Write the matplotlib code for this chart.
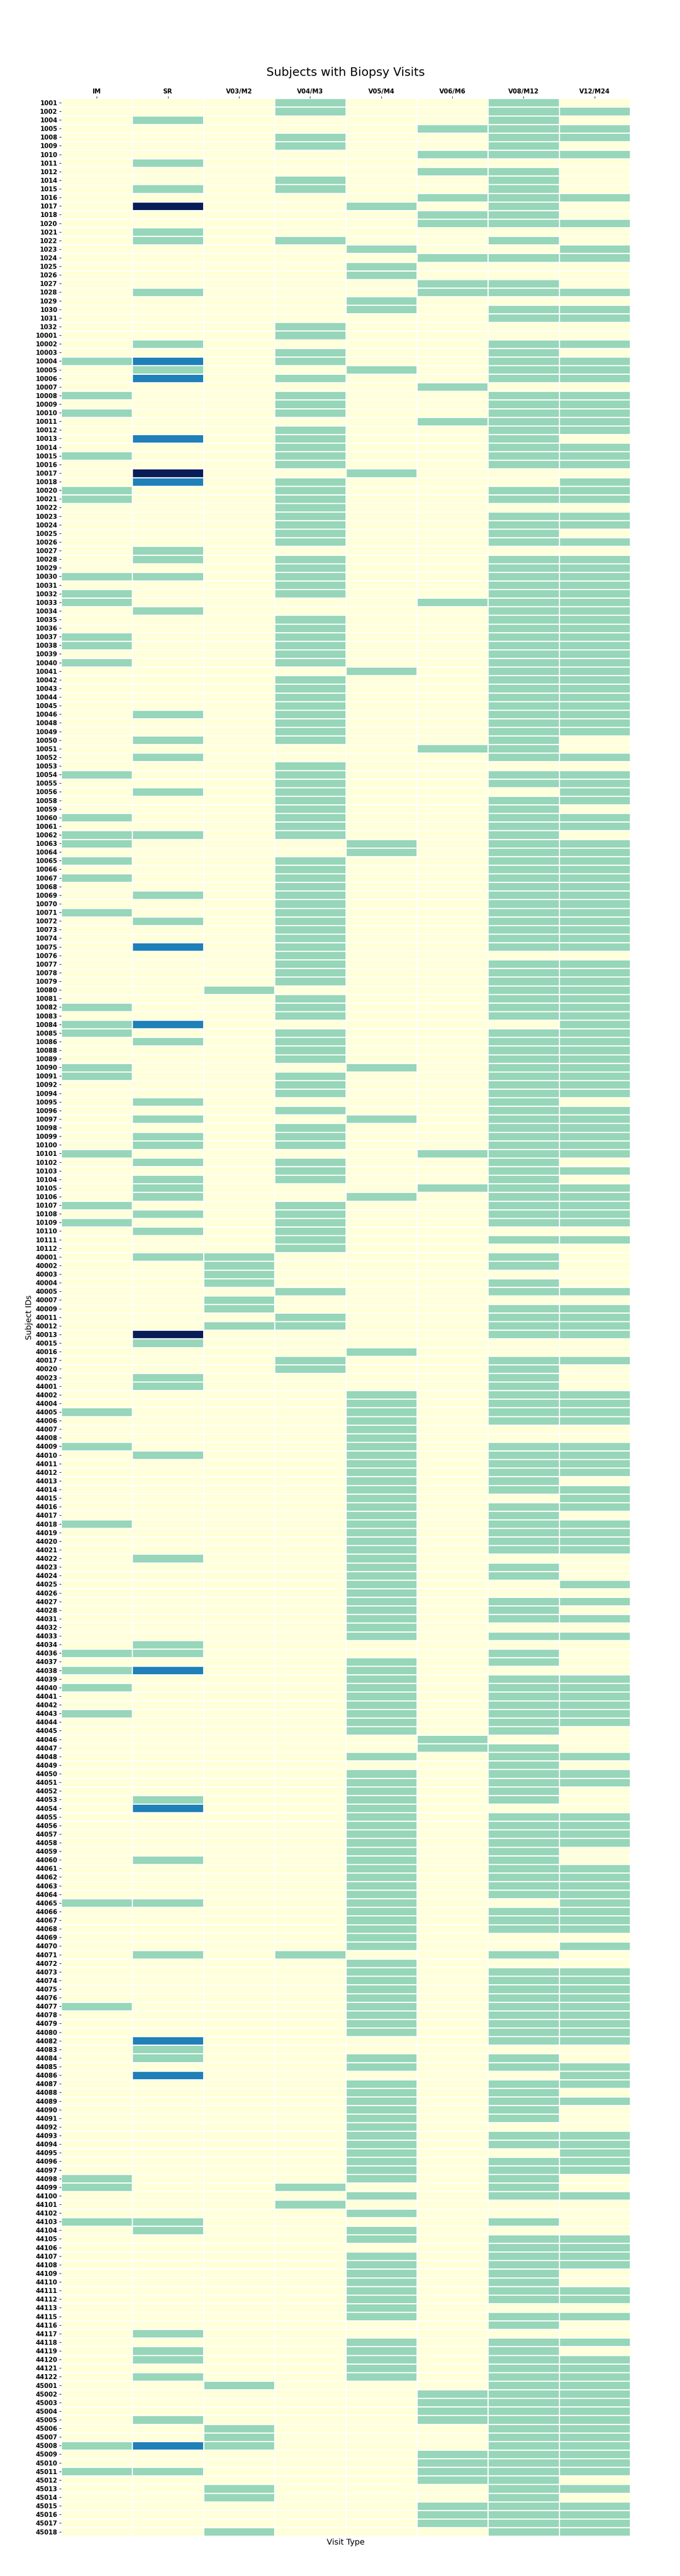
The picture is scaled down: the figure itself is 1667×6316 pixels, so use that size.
import matplotlib
matplotlib.use("Agg")
import matplotlib.pyplot as plt
import numpy as np

# visit columns of the heatmap
visit_types = ["IM", "SR", "V03/M2", "V04/M3", "V05/M4", "V06/M6", "V08/M12", "V12/M24"]

# each row: subject id, biopsy count per visit type (one digit per column)
site_1000 = [
    ("1001", "00010010"), ("1002", "00010011"), ("1004", "01000010"), ("1005", "00000111"),
    ("1008", "00010011"), ("1009", "00010010"), ("1010", "00000111"), ("1011", "01000000"),
    ("1012", "00000110"), ("1014", "00010010"), ("1015", "01010010"), ("1016", "00000111"),
    ("1017", "03001010"), ("1018", "00000110"), ("1020", "00000111"), ("1021", "01000000"),
    ("1022", "01010010"), ("1023", "00001001"), ("1024", "00000111"), ("1025", "00001000"),
    ("1026", "00001000"), ("1027", "00000110"), ("1028", "01000111"), ("1029", "00001000"),
    ("1030", "00001011"), ("1031", "00000011"), ("1032", "00010000"),
]

site_10000 = [
    ("10001", "00010000"), ("10002", "01000011"), ("10003", "00010010"), ("10004", "12010011"),
    ("10005", "01001011"), ("10006", "02010011"), ("10007", "00000100"), ("10008", "10010011"),
    ("10009", "00010011"), ("10010", "10010011"), ("10011", "00000111"), ("10012", "00010011"),
    ("10013", "02010010"), ("10014", "00010011"), ("10015", "10010011"), ("10016", "00010011"),
    ("10017", "03001000"), ("10018", "02010001"), ("10020", "10010011"), ("10021", "10010011"),
    ("10022", "00010000"), ("10023", "00010011"), ("10024", "00010011"), ("10025", "00010010"),
    ("10026", "00010011"), ("10027", "01000000"), ("10028", "01010011"), ("10029", "00010011"),
    ("10030", "11010011"), ("10031", "00010011"), ("10032", "10010011"), ("10033", "10000111"),
    ("10034", "01000011"), ("10035", "00010011"), ("10036", "00010011"), ("10037", "10010011"),
    ("10038", "10010011"), ("10039", "00010011"), ("10040", "10010011"), ("10041", "00001011"),
    ("10042", "00010011"), ("10043", "00010011"), ("10044", "00010011"), ("10045", "00010011"),
    ("10046", "01010011"), ("10048", "00010011"), ("10049", "00010011"), ("10050", "01010010"),
    ("10051", "00000110"), ("10052", "01000011"), ("10053", "00010000"), ("10054", "10010011"),
    ("10055", "00010011"), ("10056", "01010001"), ("10058", "00010011"), ("10059", "00010010"),
    ("10060", "10010011"), ("10061", "00010011"), ("10062", "11010010"), ("10063", "10001011"),
    ("10064", "00001011"), ("10065", "10010011"), ("10066", "00010011"), ("10067", "10010011"),
    ("10068", "00010011"), ("10069", "01010011"), ("10070", "00010011"), ("10071", "10010011"),
    ("10072", "01010011"), ("10073", "00010011"), ("10074", "00010011"), ("10075", "02010011"),
    ("10076", "00010000"), ("10077", "00010011"), ("10078", "00010011"), ("10079", "00010011"),
    ("10080", "00100011"), ("10081", "00010011"), ("10082", "10010011"), ("10083", "00010011"),
    ("10084", "12000001"), ("10085", "10010011"), ("10086", "01010011"), ("10088", "00010011"),
    ("10089", "00010011"), ("10090", "10001011"), ("10091", "10010011"), ("10092", "00010011"),
    ("10094", "00010011"), ("10095", "01000010"), ("10096", "00010011"), ("10097", "01001011"),
    ("10098", "00010011"), ("10099", "01010011"), ("10100", "01010011"), ("10101", "10000111"),
    ("10102", "01010010"), ("10103", "00010011"), ("10104", "01010010"), ("10105", "01000111"),
    ("10106", "01001011"), ("10107", "10010011"), ("10108", "01010011"), ("10109", "10010011"),
    ("10110", "01010000"), ("10111", "00010011"), ("10112", "00010000"),
]

site_40000 = [
    ("40001", "01100010"), ("40002", "00100010"), ("40003", "00100000"), ("40004", "00100010"),
    ("40005", "00010011"), ("40007", "00100000"), ("40009", "00100011"), ("40011", "00010011"),
    ("40012", "00110011"), ("40013", "03000011"), ("40015", "01000000"), ("40016", "00001000"),
    ("40017", "00010011"), ("40020", "00010010"), ("40023", "01000010"),
]

site_44000 = [
    ("44001", "01000010"), ("44002", "00001011"), ("44004", "00001011"), ("44005", "10001011"),
    ("44006", "00001011"), ("44007", "00001000"), ("44008", "00001000"), ("44009", "10001011"),
    ("44010", "01001011"), ("44011", "00001011"), ("44012", "00001011"), ("44013", "00001010"),
    ("44014", "00001011"), ("44015", "00001001"), ("44016", "00001011"), ("44017", "00001010"),
    ("44018", "10001011"), ("44019", "00001011"), ("44020", "00001011"), ("44021", "00001011"),
    ("44022", "01001000"), ("44023", "00001010"), ("44024", "00001010"), ("44025", "00001001"),
    ("44026", "00001000"), ("44027", "00001011"), ("44028", "00001010"), ("44031", "00001011"),
    ("44032", "00001000"), ("44033", "00001011"), ("44034", "01000000"), ("44036", "11000010"),
    ("44037", "00001010"), ("44038", "12001000"), ("44039", "00001011"), ("44040", "10001011"),
    ("44041", "00001011"), ("44042", "00001011"), ("44043", "10001011"), ("44044", "00001011"),
    ("44045", "00001010"), ("44046", "00000100"), ("44047", "00000110"), ("44048", "00001011"),
    ("44049", "00000010"), ("44050", "00001011"), ("44051", "00001011"), ("44052", "00001010"),
    ("44053", "01001010"), ("44054", "02001000"), ("44055", "00001011"), ("44056", "00001011"),
    ("44057", "00001011"), ("44058", "00001011"), ("44059", "00001010"), ("44060", "01001010"),
    ("44061", "00001011"), ("44062", "00001011"), ("44063", "00001011"), ("44064", "00001011"),
    ("44065", "11001001"), ("44066", "00001011"), ("44067", "00001011"), ("44068", "00001011"),
    ("44069", "00001000"), ("44070", "00001001"), ("44071", "01010010"), ("44072", "00001000"),
    ("44073", "00001011"), ("44074", "00001011"), ("44075", "00001011"), ("44076", "00001011"),
    ("44077", "10001011"), ("44078", "00001011"), ("44079", "00001011"), ("44080", "00001011"),
    ("44082", "02000011"), ("44083", "01000000"), ("44084", "01001010"), ("44085", "00001011"),
    ("44086", "02000001"), ("44087", "00001011"), ("44088", "00001010"), ("44089", "00001011"),
    ("44090", "00001010"), ("44091", "00001010"), ("44092", "00001000"), ("44093", "00001011"),
    ("44094", "00001011"), ("44095", "00001001"), ("44096", "00001011"), ("44097", "00001011"),
    ("44098", "10001010"), ("44099", "10010010"), ("44100", "00001011"), ("44101", "00010000"),
    ("44102", "00001000"), ("44103", "11000010"), ("44104", "01001000"), ("44105", "00001011"),
    ("44106", "00000011"), ("44107", "00001011"), ("44108", "00001011"), ("44109", "00001010"),
    ("44110", "00001010"), ("44111", "00001011"), ("44112", "00001011"), ("44113", "00001000"),
    ("44115", "00001011"), ("44116", "00000010"), ("44117", "01000000"), ("44118", "00001011"),
    ("44119", "01001010"), ("44120", "01001011"), ("44121", "00001011"), ("44122", "01001011"),
]

site_45000 = [
    ("45001", "00100011"), ("45002", "00000111"), ("45003", "00000111"), ("45004", "00000111"),
    ("45005", "01000111"), ("45006", "00100011"), ("45007", "00100011"), ("45008", "12100011"),
    ("45009", "00000111"), ("45010", "00000111"), ("45011", "11000111"), ("45012", "00000110"),
    ("45013", "00100011"), ("45014", "00100010"), ("45015", "00000111"), ("45016", "00000111"),
    ("45017", "00000111"), ("45018", "00100011"),
]

rows = site_1000 + site_10000 + site_40000 + site_44000 + site_45000
subject_ids = [r[0] for r in rows]
counts = np.array([[int(c) for c in r[1]] for r in rows])

fig = plt.figure(figsize=(16.67, 63.16), dpi=100)
ax = fig.add_axes([0.09, 0.0155, 0.8368, 0.9463])

ax.pcolormesh(counts, cmap="YlGnBu", vmin=0, vmax=3, edgecolors="white", linewidth=1)
ax.set_xlim(0, len(visit_types))
ax.set_ylim(len(subject_ids), 0)

ax.xaxis.tick_top()
ax.set_xticks(np.arange(len(visit_types)) + 0.5)
ax.set_xticklabels(visit_types, fontsize=11, fontweight="bold")
ax.set_yticks(np.arange(len(subject_ids)) + 0.5)
ax.set_yticklabels(subject_ids, fontsize=11, fontweight="bold")
for s in ax.spines.values():
    s.set_visible(False)

ax.set_title("Subjects with Biopsy Visits", fontsize=21, pad=40)
ax.set_xlabel("Visit Type", fontsize=14)
ax.set_ylabel("Subject IDs", fontsize=14)

fig.savefig("out.png", dpi=100)
